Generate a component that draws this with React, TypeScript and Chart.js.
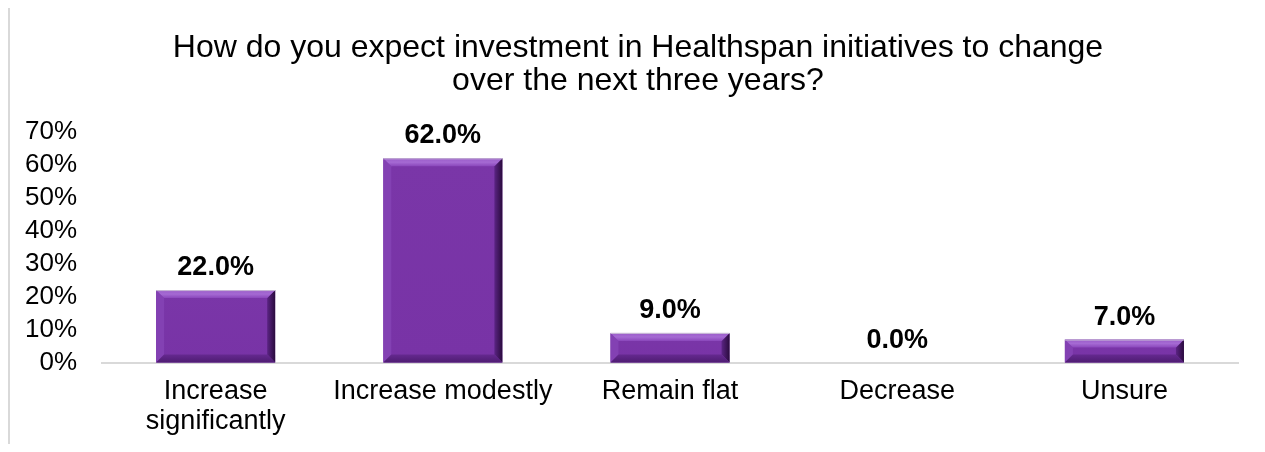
import React, { useEffect, useRef } from "react";
import { Chart, registerables } from "chart.js";

Chart.register(...registerables);

const titleLines = [
  "How do you expect investment in Healthspan initiatives to change",
  "over the next three years?",
];
const categories: (string | string[])[] = [
  ["Increase", "significantly"],
  "Increase modestly",
  "Remain flat",
  "Decrease",
  "Unsure",
];
const values = [22.0, 62.0, 9.0, 0.0, 7.0];
const yMin = 0;
const yMax = 70;
const yStep = 10;

const FONT = "'Liberation Sans', Arial, Helvetica, sans-serif";
const TITLE_SIZE = 32;
const TITLE_LH = 1.03;
const TITLE_PAD_TOP = 30;

const bevelPlugin = {
  id: "bevelBars",
  afterDatasetsDraw(chart: any) {
    const ctx = chart.ctx as CanvasRenderingContext2D;
    const meta = chart.getDatasetMeta(0);
    meta.data.forEach((bar: any) => {
      const p = bar.getProps(["x", "y", "base", "width"], true);
      const L = p.x - p.width / 2;
      const R = p.x + p.width / 2;
      const T = Math.min(p.y, p.base);
      const B = Math.max(p.y, p.base);
      const h = B - T;
      if (h < 1) return;
      const b = Math.min(8, h / 2);
      ctx.save();
      const face = ctx.createLinearGradient(0, T, 0, B);
      face.addColorStop(0, "#7A36A8");
      face.addColorStop(1, "#7833A6");
      ctx.fillStyle = face;
      ctx.fillRect(L, T, R - L, h);
      ctx.beginPath();
      ctx.moveTo(L, T);
      ctx.lineTo(L + b, T + b);
      ctx.lineTo(L + b, B - b);
      ctx.lineTo(L, B);
      ctx.closePath();
      ctx.fillStyle = "#8341B3";
      ctx.fill();
      const rg = ctx.createLinearGradient(R - b, 0, R, 0);
      rg.addColorStop(0, "#5B2484");
      rg.addColorStop(1, "#2A0B3D");
      ctx.beginPath();
      ctx.moveTo(R, T);
      ctx.lineTo(R, B);
      ctx.lineTo(R - b, B - b);
      ctx.lineTo(R - b, T + b);
      ctx.closePath();
      ctx.fillStyle = rg;
      ctx.fill();
      const tg = ctx.createLinearGradient(0, T, 0, T + b);
      tg.addColorStop(0, "#9A5BC9");
      tg.addColorStop(0.5, "#A56AD3");
      tg.addColorStop(1, "#8A47BB");
      ctx.beginPath();
      ctx.moveTo(L, T);
      ctx.lineTo(R, T);
      ctx.lineTo(R - b, T + b);
      ctx.lineTo(L + b, T + b);
      ctx.closePath();
      ctx.fillStyle = tg;
      ctx.fill();
      const bg = ctx.createLinearGradient(0, B - b, 0, B);
      bg.addColorStop(0, "#65298F");
      bg.addColorStop(1, "#4E1C72");
      ctx.beginPath();
      ctx.moveTo(L, B);
      ctx.lineTo(R, B);
      ctx.lineTo(R - b, B - b);
      ctx.lineTo(L + b, B - b);
      ctx.closePath();
      ctx.fillStyle = bg;
      ctx.fill();
      ctx.strokeStyle = "#C9BDD6";
      ctx.lineWidth = 1;
      ctx.beginPath();
      ctx.moveTo(L, T + 0.5);
      ctx.lineTo(R, T + 0.5);
      ctx.stroke();
      ctx.restore();
    });
  },
};

const labelPlugin = {
  id: "valueLabels",
  afterDatasetsDraw(chart: any) {
    const ctx = chart.ctx as CanvasRenderingContext2D;
    const meta = chart.getDatasetMeta(0);
    ctx.save();
    ctx.font = `bold 27px ${FONT}`;
    ctx.fillStyle = "#000000";
    ctx.textAlign = "center";
    ctx.textBaseline = "alphabetic";
    meta.data.forEach((bar: any, i: number) => {
      const p = bar.getProps(["x", "y"], true);
      ctx.fillText(values[i].toFixed(1) + "%", p.x, p.y - 15);
    });
    ctx.restore();
  },
};

// Title text drawn centred on the full figure (as in the reference), using the
// built-in title block only to reserve its space.
const titleTextPlugin = {
  id: "titleText",
  afterDraw(chart: any) {
    const ctx = chart.ctx as CanvasRenderingContext2D;
    const top = chart.titleBlock ? chart.titleBlock.top : 0;
    const lh = TITLE_SIZE * TITLE_LH;
    ctx.save();
    ctx.font = `${TITLE_SIZE}px ${FONT}`;
    ctx.fillStyle = "#000000";
    ctx.textAlign = "center";
    ctx.textBaseline = "middle";
    titleLines.forEach((line, i) => {
      ctx.fillText(line, 638, top + TITLE_PAD_TOP + lh * (i + 0.5) + 2);
    });
    ctx.restore();
  },
};

export default function App() {
  const ref = useRef<HTMLCanvasElement | null>(null);

  useEffect(() => {
    if (!ref.current) return;
    const chart = new Chart(ref.current, {
      type: "bar",
      data: {
        labels: categories,
        datasets: [
          {
            data: values,
            backgroundColor: "rgba(0,0,0,0)",
            borderWidth: 0,
            categoryPercentage: 1,
            barPercentage: 0.524,
          },
        ],
      },
      options: {
        animation: false,
        responsive: false,
        maintainAspectRatio: false,
        layout: { padding: { left: 0, right: 27, top: 0, bottom: 2 } },
        plugins: {
          legend: { display: false },
          tooltip: { enabled: false },
          title: {
            display: true,
            text: titleLines,
            color: "rgba(0,0,0,0)",
            font: { family: FONT, size: TITLE_SIZE, weight: "normal", lineHeight: TITLE_LH },
            padding: { top: TITLE_PAD_TOP, bottom: 36 },
          },
        },
        scales: {
          x: {
            grid: { display: false, drawTicks: false },
            border: { display: true, color: "#D9D9D9", width: 2 },
            ticks: {
              color: "#000000",
              font: { family: FONT, size: 27, lineHeight: 1.1 },
              padding: 14,
              maxRotation: 0,
              autoSkip: false,
            },
          },
          y: {
            min: yMin,
            max: yMax,
            grid: { display: false, drawTicks: false },
            border: { display: false },
            ticks: {
              stepSize: yStep,
              autoSkip: false,
              color: "#000000",
              font: { family: FONT, size: 26 },
              padding: 25,
              callback: (v: any) => v + "%",
            },
          },
        },
      },
      plugins: [bevelPlugin, labelPlugin, titleTextPlugin],
    });
    return () => chart.destroy();
  }, []);

  return (
    <div style={{ position: "relative", width: 1265, height: 452, margin: -8, overflow: "hidden", background: "#fff" }}>
      <div
        style={{
          position: "absolute",
          left: 8,
          top: 4,
          width: 1300,
          height: 500,
          borderLeft: "2px solid #D9D9D9",
          borderTop: "2px solid #D9D9D9",
        }}
      />
      <canvas ref={ref} width={1265} height={452} style={{ position: "absolute", left: 0, top: 0, display: "block" }} />
    </div>
  );
}
